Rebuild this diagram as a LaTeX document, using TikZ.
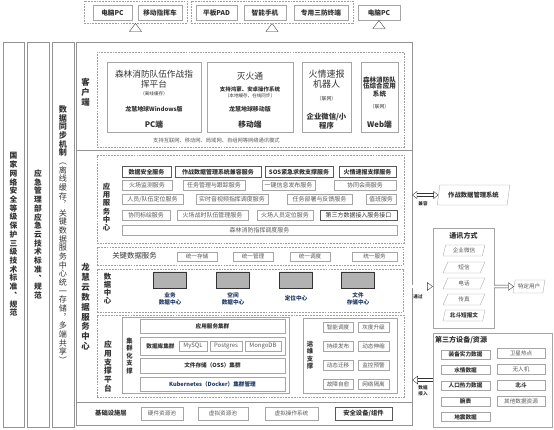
\documentclass[tikz,border=0pt]{standalone}
\usepackage{fontspec}
\setmainfont{Noto Sans CJK SC}
\usetikzlibrary{arrows.meta,positioning,shapes.geometric,calc}
\definecolor{boxline}{HTML}{A6A6A6}
\definecolor{darkline}{HTML}{595959}
\definecolor{txt}{HTML}{333333}
\definecolor{gtxt}{HTML}{595959}
\definecolor{navy}{HTML}{1F3864}
\newcommand\fsz[2]{\fontsize{#1}{#2}\selectfont}
\def\vtextend{}
\def\vtextloop#1{\ifx#1\vtextend\else\hbox to 1.1em{\hss#1\hss}\expandafter\vtextloop\fi}
\newcommand\vtext[1]{\vbox{\lineskiplimit=-\maxdimen\vtextloop#1\vtextend}}

\begin{document}
\begin{tikzpicture}[
  x=0.05cm, y=-0.05cm,
  sz/.style 2 args={minimum width=#1*0.05cm, minimum height=#2*0.05cm},
  secbox/.style={draw=gray!85, line width=0.6pt, inner sep=0pt},
  dashbox/.style={draw=gray!75, line width=0.5pt, dash pattern=on 2.5pt off 1.5pt, inner sep=0pt},
  box/.style={draw=boxline, fill=white, line width=0.5pt, inner sep=0pt, text=gtxt, font=\fsz{8.5}{10}},
  bbox/.style={box, draw=darkline, line width=0.8pt, text=txt, font=\bfseries\fsz{8.5}{10}},
  tbox/.style={box, text=txt, font=\bfseries\fsz{9.5}{11}},
  lbl/.style={inner sep=0pt, text=txt},
  vlab/.style={inner sep=0pt, text=txt, font=\bfseries\fsz{11}{12.4}},
  para/.style={trapezium, trapezium left angle=72, trapezium right angle=108, trapezium stretches=true,
    draw=boxline, fill=white, line width=0.5pt, inner sep=0pt, text=gtxt, font=\fsz{8}{10}},
  db/.style={cylinder, shape border rotate=90, aspect=0.45, draw=gray!40!black, line width=0.4pt,
    cylinder uses custom fill, cylinder body fill=gray!60, cylinder end fill=gray!45,
    minimum width=33*0.05cm, minimum height=16*0.05cm, inner sep=0pt},
  dblbl/.style={lbl, text=navy, align=center, font=\bfseries\fsz{8}{10}},
  bighollow/.style={draw=black!80, line width=0.5pt, double=white, double distance=6pt,
    -{Triangle[open, length=12pt, width=18pt, line width=0.5pt]}},
  hollow/.style={draw=black!80, line width=0.5pt, double=white, double distance=3.5pt,
    -{Triangle[open, length=8pt, width=12pt, line width=0.5pt]}},
  hollowboth/.style={hollow, {Triangle[open, length=7pt, width=11pt, line width=0.5pt]}-{Triangle[open, length=7pt, width=11pt, line width=0.5pt]}},
  note/.style={lbl, font=\bfseries\fsz{6.5}{8}, align=center}
]
\useasboundingbox (0,0) rectangle (554,430);

\node[secbox, vlab, sz={21}{385}] (stdnet) at (13.5,234.5) {\vtext{国家网络安全等级保护三级技术标准︑规范}};
\node[secbox, vlab, sz={22}{385}] (stdcloud) at (38,234.5) {\vtext{应急管理部应急云技术标准︑规范}};
\node[secbox, vlab, font=\fsz{11.5}{12.3}, sz={22}{385}] (sync) at (63,234.5)
  {\vbox{\lineskiplimit=-\maxdimen{\bfseries\vtextloop 数据同步机制\vtextend}\vtextloop ︵离线缓存︐关键数据服务中心统一存储︐多端共享︶\vtextend}};

\node[secbox, sz={336}{108}] (client) at (244,96) {};
\node[secbox, sz={336}{252}] (cloud) at (244,276) {};
\node[secbox, sz={336}{23}] (infra) at (244,413.5) {};
\node[vlab, font=\bfseries\fsz{12}{14}] (clientlab) at (85.5,92) {\vtext{客户端}};
\node[vlab, font=\bfseries\fsz{12}{14}] (cloudlab) at (85.5,307) {\vtext{龙慧云数据服务中心}};

\node[dashbox, sz={103}{22}] (devgrpa) at (135.5,12) {};
\node[tbox, sz={39}{15}] (pcone) at (112.5,12.5) {电脑PC};
\node[tbox, sz={44}{15}] (car) at (160,12.5) {移动指挥车};
\node[dashbox, sz={162}{22}] (devgrpb) at (272,12) {};
\node[tbox, sz={41}{15}] (pad) at (216.5,12.5) {平板PAD};
\node[tbox, sz={42}{15}] (phone) at (265,12.5) {智能手机};
\node[tbox, sz={54}{15}] (term) at (321,12.5) {专用三防终端};
\node[tbox, sz={42}{15}] (pctwo) at (379,12.5) {电脑PC};
\draw[bighollow] (devgrpa.south |- client.north) -- (devgrpa.south);
\draw[bighollow] (devgrpb.south |- client.north) -- (devgrpb.south);
\draw[bighollow] (pctwo.south |- client.north) -- (pctwo.south);

\node[dashbox, sz={307}{95}] (clientarea) at (250.5,99.5) {};
\node[box, sz={94}{70}] (pcapp) at (154,97) {};
\node[lbl, font=\fsz{12.3}{14}] (pcta) at (154,74) {森林消防队伍作战指};
\node[lbl, font=\fsz{12.3}{14}] (pctb) at (154,84) {挥平台};
\node[lbl, font=\fsz{6.5}{8}] (pcnote) at (154,93.5) {（离线缓存）};
\node[lbl, font=\bfseries\fsz{8.5}{10}] (pcver) at (154,109.5) {龙慧地球Windows版};
\node[lbl, font=\bfseries\fsz{11}{13}] (pcend) at (154,125) {PC端};
\node[box, sz={86}{70}] (mobapp) at (250,97) {};
\node[lbl, font=\fsz{12.5}{14}] (mobt) at (250,76.5) {灭火通};
\node[lbl, font=\bfseries\fsz{7.8}{9}] (mobos) at (250,89.5) {支持鸿蒙、安卓操作系统};
\node[lbl, font=\fsz{6.5}{8}] (mobnote) at (250,96) {（本地缓存，在线同步）};
\node[lbl, font=\bfseries\fsz{8.5}{10}] (mobver) at (250,109.5) {龙慧地球移动版};
\node[lbl, font=\bfseries\fsz{11}{13}] (mobend) at (250,125) {移动端};
\node[box, sz={49}{70}] (robot) at (326.5,97) {};
\node[lbl, font=\fsz{12.8}{14}] (robta) at (326.5,74) {火情速报};
\node[lbl, font=\fsz{12.8}{14}] (robtb) at (326.5,84) {机器人};
\node[lbl, font=\fsz{7}{8}] (robnote) at (326.5,98.5) {（联网）};
\node[lbl, font=\bfseries\fsz{10.5}{12}] (robenda) at (326.5,116.5) {企业微信/小};
\node[lbl, font=\bfseries\fsz{10.5}{12}] (robendb) at (326.5,125.5) {程序};
\node[box, sz={37}{70}] (webapp) at (379.5,97) {};
\node[lbl, font=\bfseries\fsz{9.3}{10}] (webta) at (379.5,79.5) {森林消防队};
\node[lbl, font=\bfseries\fsz{9.3}{10}] (webtb) at (379.5,86.5) {伍综合应用};
\node[lbl, font=\bfseries\fsz{9.3}{10}] (webtc) at (379.5,94) {系统};
\node[lbl, font=\fsz{7}{8}] (webnote) at (379.5,107) {（联网）};
\node[lbl, font=\bfseries\fsz{11}{13}] (webend) at (379.5,125) {Web端};
\node[lbl, text=gtxt, font=\fsz{7.5}{9}] (netmode) at (216.5,140.5) {支持互联网、移动网、局域网、自组网等网络通讯模式};

\node[dashbox, sz={307}{88}] (appsvc) at (250.5,199) {};
\node[vlab, font=\bfseries\fsz{10.5}{11.8}] (appsvclab) at (106.5,207) {\vtext{应用服务中心}};
\node[bbox, sz={49}{11}] (svcsec) at (146.5,172) {数据安全服务};
\node[bbox, sz={86}{11}] (svccompat) at (218,172) {作战数据管理系统兼容服务};
\node[bbox, sz={68}{11}] (svcsos) at (299,172) {SOS紧急求救支撑服务};
\node[bbox, sz={57}{11}] (svcfire) at (367.5,172) {火情速报支撑服务};
\node[box, sz={50}{10}] (svcmon) at (147,185) {火场监测服务};
\node[box, sz={62}{10}] (svctask) at (214,185) {任务管理与跟踪服务};
\node[box, sz={53}{10}] (svcpub) at (288.5,185) {一键信息发布服务};
\node[box, sz={62}{10}] (svcconsult) at (365,185) {协同会商服务};
\node[box, sz={61}{10}] (svcloc) at (152.5,199.5) {人员/队伍定位服务};
\node[box, sz={72}{10}] (svcvideo) at (232,199.5) {实时音视频指挥调度服务};
\node[box, sz={65}{10}] (svcdeploy) at (319.5,199.5) {任务部署与反馈服务};
\node[box, sz={30}{10}] (svcduty) at (381,199.5) {值班服务};
\node[box, sz={48}{10}] (svcplot) at (146,215.5) {协同标绘服务};
\node[box, sz={71}{10}] (svcteam) at (212.5,215.5) {火场战时队伍管理服务};
\node[box, sz={56}{10}] (svcpos) at (285,215.5) {火场人员定位服务};
\node[bbox, font=\fsz{8.5}{10}, sz={77}{10}] (svcapi) at (358.5,215.5) {第三方数据接入服务接口};
\node[box, sz={275}{10}] (svcdispatch) at (259.5,230) {森林消防指挥调度服务};

\node[dashbox, sz={306}{18}] (keydata) at (250,256) {};
\node[lbl, font=\fsz{10.5}{12}] (keylab) at (134.5,256) {关键数据服务};
\node[box, font=\fsz{8}{9}, sz={40}{9}] (ustore) at (197,256.5) {统一存储};
\node[box, font=\fsz{8}{9}, sz={40}{9}] (umanage) at (253,256.5) {统一管理};
\node[box, font=\fsz{8}{9}, sz={40}{9}] (usched) at (310,256.5) {统一调度};
\node[box, font=\fsz{8}{9}, sz={45}{9}] (userve) at (374.5,256.5) {统一服务};

\node[dashbox, sz={306}{43}] (datacenter) at (250,290.5) {};
\node[vlab, font=\bfseries\fsz{10.5}{11.5}] (dclab) at (107.5,288.5) {\vtext{数据中心}};
\node[db] (dbbiz) at (170,280) {};
\node[db] (dbgeo) at (233,280) {};
\node[db] (dbloc) at (296,280) {};
\node[db] (dbfile) at (358,280) {};
\node[dblbl] (dbbizlab) at (170,298.5) {业务\\数据中心};
\node[dblbl] (dbgeolab) at (233,298.5) {空间\\数据中心};
\node[dblbl] (dbloclab) at (296,298) {定位中心};
\node[dblbl] (dbfilelab) at (358,298.5) {文件\\存储中心};

\node[dashbox, sz={307}{82}] (support) at (250.5,356) {};
\node[vlab, font=\bfseries\fsz{11}{12.5}] (supportlab) at (108,366.5) {\vtext{应用支撑平台}};
\node[box, sz={167}{76}] (cluster) at (205.5,355) {};
\node[lbl, font=\bfseries\fsz{9}{10.8}] (clusterlab) at (129.5,356) {\vtext{集群化支撑}};
\node[tbox, font=\bfseries\fsz{8}{9}, sz={145}{14}] (appcluster) at (212.5,326) {应用服务集群};
\node[box, sz={145}{18}] (dbcluster) at (212.5,346) {};
\node[lbl, font=\bfseries\fsz{8}{9}] (dbclusterlab) at (160.5,346) {数据库集群};
\node[box, sz={28}{10}] (mysql) at (193,346) {MySQL};
\node[box, sz={32}{10}] (postgres) at (226,346) {Postgres};
\node[box, sz={36}{10}] (mongo) at (263,346) {MongoDB};
\node[tbox, font=\bfseries\fsz{8}{9}, sz={145}{15}] (oss) at (212.5,365.5) {文件存储（OSS）集群};
\node[tbox, text=navy, font=\bfseries\fsz{8}{9}, sz={145}{14}] (kube) at (212.5,384) {Kubernetes（Docker）集群管理};
\node[box, sz={94}{75}] (ops) at (350,355.5) {};
\node[lbl, font=\bfseries\fsz{9}{10.7}] (opslab) at (310,355) {\vtext{运维支撑}};
\node[box, font=\fsz{8}{9}, sz={30}{10}] (opsa) at (338,327) {智能调度};
\node[box, font=\fsz{8}{9}, sz={31}{10}] (opsb) at (373.5,327) {灰度升级};
\node[box, font=\fsz{8}{9}, sz={30}{10}] (opsc) at (338,346.5) {持续发布};
\node[box, font=\fsz{8}{9}, sz={31}{10}] (opsd) at (373.5,346.5) {动态伸缩};
\node[box, font=\fsz{8}{9}, sz={30}{10}] (opse) at (338,365.5) {动态迁移};
\node[box, font=\fsz{8}{9}, sz={31}{10}] (opsf) at (373.5,365.5) {监控预警};
\node[box, font=\fsz{8}{9}, sz={30}{10}] (opsg) at (338,384) {故障自愈};
\node[box, font=\fsz{8}{9}, sz={31}{10}] (opsh) at (373.5,384) {网络隔离};

\node[lbl, font=\bfseries\fsz{9}{10}] (infralab) at (111,413.5) {基础设施层};
\node[box, font=\fsz{8}{9}, sz={42}{13}] (hwpool) at (162,413.5) {硬件资源池};
\node[box, font=\fsz{8}{9}, sz={50}{13}] (vpool) at (223,413.5) {虚拟资源池};
\node[box, font=\fsz{8}{9}, sz={53}{13}] (vos) at (291.5,413.5) {虚拟操作系统};
\node[bbox, font=\bfseries\fsz{9}{10}, sz={57}{13}] (secdev) at (363.5,413.5) {安全设备/组件};

\node[para, text=txt, font=\bfseries\fsz{9}{10}, sz={73}{20}] (mgmt) at (473.5,195) {作战数据管理系统};
\draw[hollowboth] (cloud.east |- mgmt.west) -- (mgmt.west);
\node[note] (compatlab) at (423,203.5) {兼容};

\node[box, sz={61}{100}] (comm) at (463.5,278) {};
\node[lbl, font=\bfseries\fsz{10}{11}] (commlab) at (463.5,235.5) {通讯方式};
\node[para, sz={42}{11}] (cwx) at (464,250.5) {企业微信};
\node[para, sz={42}{11}] (csms) at (464,267.5) {短信};
\node[para, sz={42}{11}] (ctel) at (464,283.5) {电话};
\node[para, sz={42}{11}] (cfax) at (464,299.5) {传真};
\node[para, text=txt, font=\bfseries\fsz{8}{10}, sz={42}{11}] (cbd) at (464,315.5) {北斗短报文};
\node[para, sz={32}{13}] (user) at (529,286.5) {特定用户};
\draw[hollow] (cloud.east |- user) -- (comm.west |- user);
\node[note] (vialab) at (418,297) {通过};
\draw[hollow] (comm.east |- user) -- (user.west);

\node[box, sz={119}{94}] (third) at (492.5,380) {};
\node[lbl, anchor=west, font=\bfseries\fsz{10}{11}] (thirdlab) at (435,340.5) {第三方设备/资源};
\node[tbox, font=\bfseries\fsz{8}{9}, sz={49}{9}] (tequip) at (465.5,354.5) {装备实力数据};
\node[tbox, font=\bfseries\fsz{8}{9}, sz={49}{9}] (twater) at (465.5,370) {水情数据};
\node[tbox, font=\bfseries\fsz{8}{9}, sz={49}{9}] (theat) at (465.5,385.5) {人口热力数据};
\node[tbox, font=\bfseries\fsz{8}{9}, sz={49}{9}] (twatch) at (465.5,401.5) {腕表};
\node[tbox, font=\bfseries\fsz{8}{9}, sz={49}{9}] (tquake) at (465.5,417) {地震数据};
\node[box, font=\fsz{8}{9}, sz={48}{10}] (tsat) at (521,353.5) {卫星热点};
\node[box, font=\fsz{8}{9}, sz={48}{10}] (tuav) at (521,369) {无人机};
\node[tbox, font=\bfseries\fsz{8}{9}, sz={48}{10}] (tbd) at (521,385) {北斗};
\node[box, font=\fsz{8}{9}, sz={48}{10}] (tother) at (521,401) {其他数据资源};
\draw[hollow] (third.west) -- (third.west -| cloud.east);
\node[note] (inlab) at (423,391) {数据\\接入};
\end{tikzpicture}
\end{document}
